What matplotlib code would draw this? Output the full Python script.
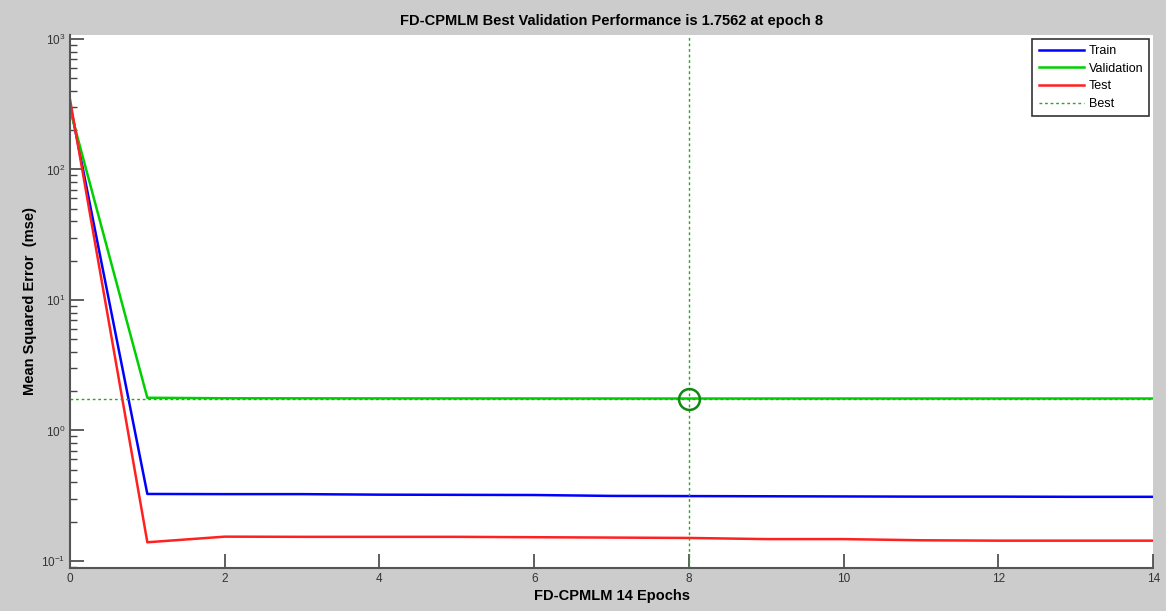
import numpy as np
import matplotlib
matplotlib.use("Agg")
import matplotlib.pyplot as plt
from matplotlib.ticker import LogLocator, NullFormatter

plt.rcParams['font.family'] = ['Liberation Sans', 'DejaVu Sans']
plt.rcParams['axes.unicode_minus'] = False

epochs = np.arange(0, 15)
train = [320, 0.326, 0.325, 0.325, 0.322, 0.321, 0.320, 0.315, 0.314, 0.313, 0.312, 0.311, 0.311, 0.310, 0.310]
validation = [290, 1.78, 1.764, 1.762, 1.760, 1.759, 1.758, 1.757, 1.7562, 1.7563, 1.7564, 1.7565, 1.7566, 1.7567, 1.7568]
test = [345, 0.139, 0.1535, 0.153, 0.153, 0.153, 0.152, 0.151, 0.150, 0.147, 0.147, 0.144, 0.143, 0.143, 0.143]
best_epoch = 8
best_perf = 1.7562

fig = plt.figure(figsize=(11.66, 6.11), dpi=100)
fig.patch.set_facecolor('#cccccc')
ax = fig.add_axes([0.060, 0.0704, 0.929, 0.8723])

ax.plot(epochs, train, color='#0000ff', lw=1.8, label='Train')
ax.plot(epochs, validation, color='#00d000', lw=1.8, label='Validation')
ax.plot(epochs, test, color='#ff2020', lw=1.8, label='Test')
ax.axvline(best_epoch, color='#22aa22', lw=1, ls=(0, (2, 2)), label='Best')
ax.axhline(best_perf, color='#22aa22', lw=1, ls=(0, (2, 2)))
ax.plot([best_epoch], [best_perf], 'o', ms=15, mfc='none', mec='#118811', mew=1.8)

ax.set_yscale('log')
ax.set_xlim(0, 14)
ax.set_ylim(10 ** -1.054, 10 ** 3.03)
ax.set_xticks(range(0, 15, 2))
ax.yaxis.set_major_locator(LogLocator(base=10, numticks=10))
ax.yaxis.set_minor_locator(LogLocator(base=10, subs=np.arange(2, 10), numticks=20))
ax.yaxis.set_minor_formatter(NullFormatter())

for s in ['top', 'right']:
    ax.spines[s].set_visible(False)
for s in ['left', 'bottom']:
    ax.spines[s].set_color('#555555')
    ax.spines[s].set_linewidth(1.5)
ax.tick_params(which='major', direction='in', length=10, width=1.2, color='#444444',
               labelsize=8.5, labelcolor='#333333')
ax.tick_params(which='minor', direction='in', length=5, width=1, color='#444444')

ax.set_title('FD-CPMLM Best Validation Performance is 1.7562 at epoch 8',
             fontsize=10.5, fontweight='bold', pad=7)
ax.set_xlabel('FD-CPMLM 14 Epochs', fontsize=10.5, fontweight='bold', labelpad=3)
ax.set_ylabel('Mean Squared Error  (mse)', fontsize=10.5, fontweight='bold', labelpad=3)

leg = ax.legend(loc='upper right', fontsize=9, fancybox=False, framealpha=1,
                edgecolor='#333333', handlelength=3.6, handletextpad=0.4,
                labelspacing=0.45, borderaxespad=0.3, borderpad=0.5)
leg.get_frame().set_linewidth(1.2)

fig.savefig('out.png', dpi=100, facecolor=fig.get_facecolor())
